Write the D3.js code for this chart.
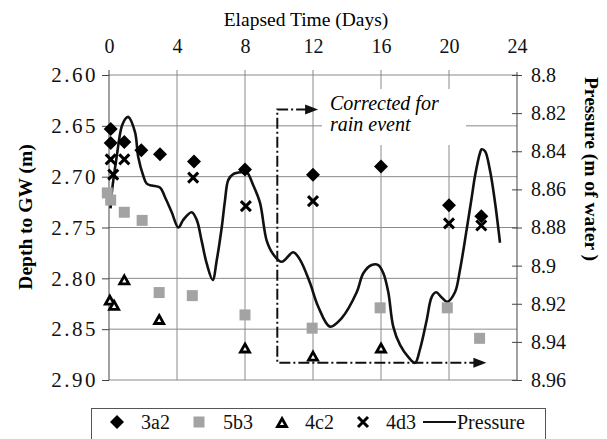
<!DOCTYPE html>
<html><head><meta charset="utf-8">
<script src="https://cdn.jsdelivr.net/npm/d3@7"></script>
<style>body{margin:0;background:#fff}svg{display:block}</style>
</head><body><svg id="c" width="607" height="439"></svg>
<script>
// ---- data ----
const xTicks = [0,4,8,12,16,20,24];
const yLeftTicks = [2.60,2.65,2.70,2.75,2.80,2.85,2.90];
const yRightTicks = [8.8,8.82,8.84,8.86,8.88,8.9,8.92,8.94,8.96];
const s3a2 = [[0.1,2.653],[0.1,2.667],[0.9,2.666],[1.9,2.674],[3.0,2.678],[5.0,2.685],[8.0,2.693],[12.0,2.698],[16.0,2.690],[20.0,2.728],[21.9,2.739]];
const s5b3 = [[-0.1,2.716],[0.1,2.723],[0.9,2.735],[1.95,2.743],[2.95,2.814],[4.9,2.817],[8.0,2.836],[11.95,2.849],[15.95,2.829],[19.9,2.829],[21.8,2.859]];
const s4c2 = [[0.05,2.822],[0.3,2.827],[0.9,2.802],[2.95,2.841],[8.0,2.869],[12.0,2.877],[16.0,2.869]];
const s4d3 = [[0.1,2.683],[0.9,2.683],[0.25,2.698],[4.95,2.701],[8.05,2.729],[12.0,2.724],[20.0,2.746],[21.9,2.748]];
const pressure = [[0.09,8.870],[0.16,8.862],[0.45,8.843],[0.75,8.827],[1.0,8.8226],[1.14,8.822],[1.53,8.830],[1.72,8.843],[2.02,8.853],[2.22,8.857],[2.51,8.858],[3.0,8.859],[3.29,8.864],[3.69,8.872],[4.08,8.880],[4.37,8.876],[4.86,8.872],[5.16,8.876],[5.45,8.887],[5.75,8.899],[6.10,8.9075],[6.34,8.897],[6.63,8.880],[6.82,8.866],[7.02,8.855],[7.31,8.852],[7.81,8.851],[8.10,8.851],[8.49,8.858],[8.88,8.867],[9.28,8.887],[9.66,8.894],[10.16,8.898],[10.84,8.893],[11.24,8.897],[11.82,8.909],[12.31,8.9216],[13.0,8.932],[13.69,8.9275],[14.57,8.914],[14.96,8.904],[15.45,8.8997],[15.84,8.8997],[16.14,8.904],[16.43,8.914],[16.72,8.932],[17.12,8.9416],[17.61,8.948],[18.0,8.951],[18.29,8.944],[18.69,8.9285],[18.98,8.9165],[19.24,8.914],[19.57,8.9167],[19.90,8.919],[20.35,8.914],[20.65,8.902],[21.04,8.881],[21.34,8.864],[21.53,8.853],[21.82,8.841],[21.92,8.839],[22.12,8.840],[22.41,8.850],[22.71,8.867],[23.0,8.888]];
const annotation = {x0:9.9, yTop:2.634, tipTop:12.3, yBot:2.883, tipBot:22.2};
const legendItems = ["3a2","5b3","4c2","4d3","Pressure"];

// ---- layout ----
const FONT = "Liberation Serif";
const svg = d3.select("#c").attr("font-family",FONT);
const L=109, R=517, T=75, B=380;
const x = d3.scaleLinear().domain([0,24]).range([L,R]);
const yL = d3.scaleLinear().domain([2.60,2.90]).range([T,B]);
const yR = d3.scaleLinear().domain([8.80,8.96]).range([T,B]);
const grid = "#8a8a8a";

// gridlines
svg.append("g").selectAll("line").data(yLeftTicks).join("line")
  .attr("x1",L).attr("x2",R).attr("y1",d=>yL(d)).attr("y2",d=>yL(d))
  .attr("stroke",grid).attr("stroke-width",1);
svg.append("g").selectAll("line").data(xTicks.slice(1,-1)).join("line")
  .attr("x1",d=>x(d)).attr("x2",d=>x(d)).attr("y1",T-5).attr("y2",B)
  .attr("stroke",grid).attr("stroke-width",1);

// white box behind annotation text
svg.append("rect").attr("x",322).attr("y",89).attr("width",144).attr("height",56).attr("fill","#fff");

// left axis
const axL = d3.axisLeft(yL).tickValues(yLeftTicks).tickFormat(d3.format(".2f")).tickSize(7).tickPadding(4);
const gL = svg.append("g").attr("transform",`translate(${L},0)`).call(axL);
gL.select(".domain").attr("d",`M0,${T-5}V${B}`).attr("stroke","#444");
gL.selectAll(".tick line").attr("stroke","#444");
gL.selectAll("text").attr("font-size",21).attr("letter-spacing",2.5).attr("fill","#111");

// right axis
const axR = d3.axisRight(yR).tickValues(yRightTicks).tickFormat(d=>String(+d.toFixed(2))).tickSize(5).tickPadding(9);
const gR = svg.append("g").attr("transform",`translate(${R},0)`).call(axR);
gR.select(".domain").attr("d",`M0,${T-3}V${B}`).attr("stroke","#444");
gR.selectAll(".tick line").attr("x1",-5).attr("stroke","#444");
gR.selectAll("text").attr("font-size",20).attr("fill","#111");

// top axis labels
const axT = d3.axisTop(x).tickValues(xTicks).tickSize(0).tickPadding(22);
const gT = svg.append("g").attr("transform",`translate(0,${T})`).call(axT);
gT.select(".domain").remove();
gT.selectAll("text").attr("font-size",20).attr("fill","#111");

// titles
svg.append("text").attr("x",306).attr("y",26).attr("text-anchor","middle").attr("font-size",19.5).text("Elapsed Time (Days)");
svg.append("text").attr("transform","translate(32,217) rotate(-90)").attr("text-anchor","middle").attr("font-size",19.5).attr("font-weight","bold").text("Depth to GW (m)");
svg.append("text").attr("transform","translate(585,169) rotate(90)").attr("text-anchor","middle").attr("font-size",19.5).attr("font-weight","bold").text("Pressure (m of water )");

// annotation
svg.append("text").attr("x",330).attr("y",110).attr("font-size",20).attr("font-style","italic").text("Corrected for");
svg.append("text").attr("x",330).attr("y",131).attr("font-size",20).attr("font-style","italic").text("rain event");
const ax0 = x(annotation.x0), ayT = yL(annotation.yTop), ayB = yL(annotation.yBot);
svg.append("path").attr("d",`M${x(annotation.tipTop)-11},${ayT}H${ax0}V${ayB}H${x(annotation.tipBot)-12}`)
  .attr("fill","none").attr("stroke","#111").attr("stroke-width",2).attr("stroke-dasharray","11,3,2,3");
[[x(annotation.tipTop),ayT],[x(annotation.tipBot),ayB]].forEach(([tx,ty])=>{
  svg.append("path").attr("d",`M${tx},${ty}L${tx-13},${ty-5}L${tx-13},${ty+5}Z`).attr("fill","#111");
});

// pressure line
const line = d3.line().x(d=>x(d[0])).y(d=>yR(d[1])).curve(d3.curveCatmullRom.alpha(0.5));
svg.append("path").datum(pressure).attr("d",line).attr("fill","none").attr("stroke","#111").attr("stroke-width",2.6).attr("stroke-linejoin","round");

// marker shapes
function diamond(g,cx,cy){g.append("path").attr("d",`M${cx},${cy-7}L${cx+7},${cy}L${cx},${cy+7}L${cx-7},${cy}Z`).attr("fill","#000");}
function square(g,cx,cy){g.append("rect").attr("x",cx-5.5).attr("y",cy-5.5).attr("width",11).attr("height",11).attr("fill","#a3a3a3");}
function tri(g,cx,cy){g.append("path").attr("d",`M${cx},${cy-4.5}L${cx+4.5},${cy+3.5}L${cx-4.5},${cy+3.5}Z`).attr("fill","#fff").attr("stroke","#000").attr("stroke-width",2.8).attr("stroke-linejoin","miter");}
function cross(g,cx,cy){g.append("path").attr("d",`M${cx-5},${cy-5}L${cx+5},${cy+5}M${cx-5},${cy+5}L${cx+5},${cy-5}`).attr("stroke","#000").attr("stroke-width",3);}

const gm = svg.append("g");
s5b3.forEach(d=>square(gm,x(d[0]),yL(d[1])));
s4c2.forEach(d=>tri(gm,x(d[0]),yL(d[1])));
s3a2.forEach(d=>diamond(gm,x(d[0]),yL(d[1])));
s4d3.forEach(d=>cross(gm,x(d[0]),yL(d[1])));

// legend
const lg = svg.append("g");
lg.append("rect").attr("x",91.5).attr("y",408.5).attr("width",454).attr("height",40).attr("fill","#fff").attr("stroke","#555").attr("stroke-width",1);
const lx = [117,199,282,363,423], tx = [141,223,305,386,457], ly = 422;
diamond(lg,lx[0],ly); square(lg,lx[1],ly); tri(lg,lx[2],ly+1); cross(lg,lx[3],ly);
lg.append("line").attr("x1",lx[4]).attr("x2",lx[4]+33).attr("y1",ly).attr("y2",ly).attr("stroke","#111").attr("stroke-width",2);
legendItems.forEach((t,i)=>lg.append("text").attr("x",tx[i]).attr("y",ly+7).attr("font-size",20).attr("fill","#111").text(t));

svg.selectAll("text").attr("font-family",FONT);
</script></body></html>
